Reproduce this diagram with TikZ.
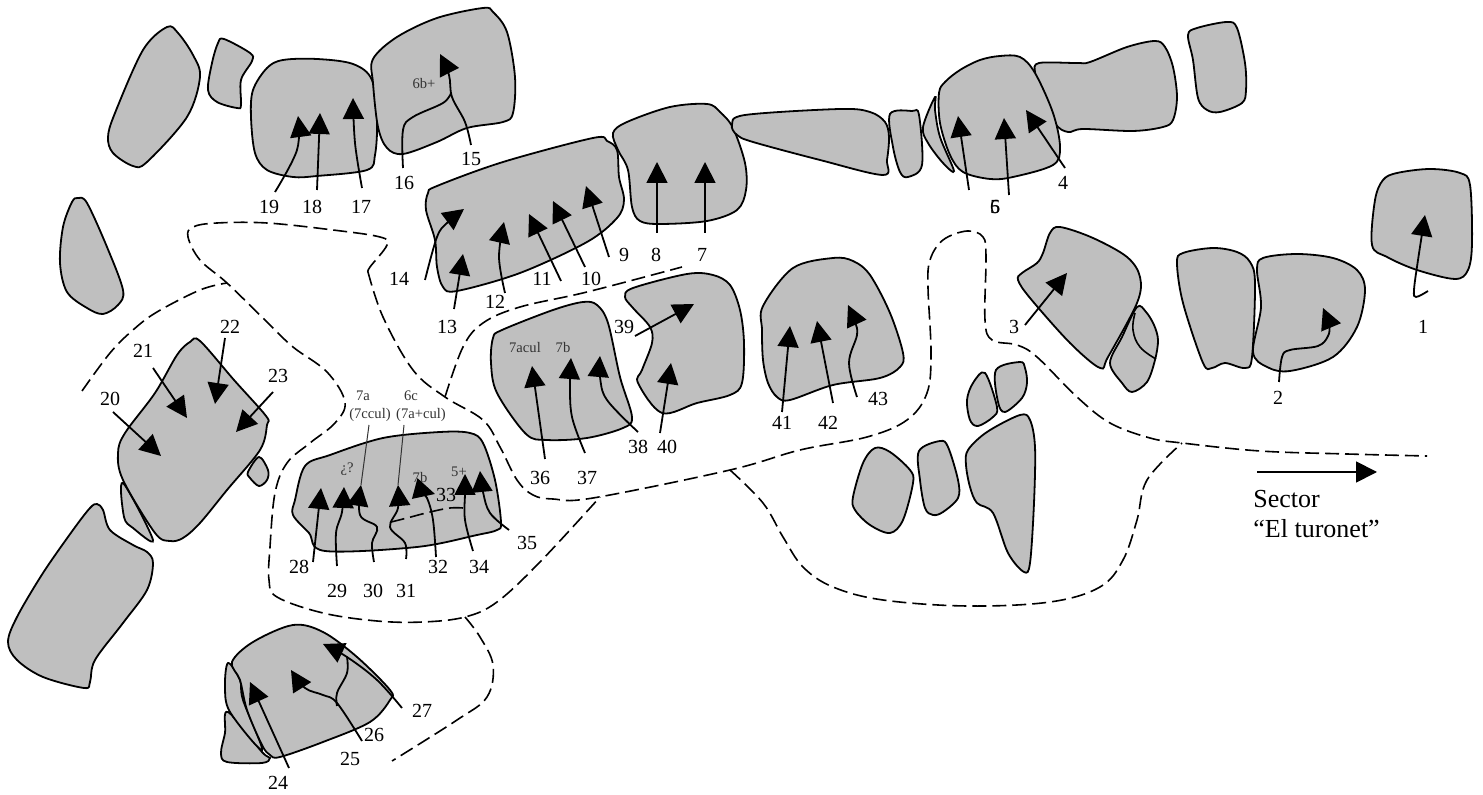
\documentclass[tikz,border=0pt]{standalone}
\usepackage{fontspec}
\setmainfont{Liberation Serif}
\usetikzlibrary{arrows.meta}
\definecolor{stone_gray}{gray}{0.75}
\tikzset{
  stone_block/.style={draw = black, fill = stone_gray, line width = 0.9pt, smooth cycle, tension = 0.55},
  stone_curve/.style={draw = black, line width = 0.8pt, smooth, tension = 0.7},
  arrow_route/.style={-{Triangle[length = 10.5pt, width = 10.5pt]}, line width = 0.9pt, color = black},
  arrow_curve/.style={arrow_route, smooth, tension = 0.6},
  line_route/.style={line width = 0.9pt, color = black, smooth, tension = 0.6},
  line_leader/.style={line width = 0.5pt, color = black!80},
  dash_line/.style={line width = 0.8pt, dash pattern = on 7pt off 3pt, smooth, tension = 0.6},
  num_label/.style={draw = none, inner sep = 0, font = \fontsize{10}{12}\selectfont},
  tag_label/.style={draw = none, inner sep = 0, color = black!80, font = \fontsize{7.3}{9}\selectfont},
  sector_label/.style={draw = none, inner sep = 0, anchor = west, font = \fontsize{13}{15}\selectfont}
}
\begin{document}
\begin{tikzpicture}[x = 0.5pt, y = -0.5pt]
\useasboundingbox (0,0) rectangle (1483,795);

%% stones, top row
\draw[stone_block] plot coordinates {(167,27) (178,33) (193,55) (200,77) (187,117) (147,162) (133,166) (113,153) (108,137) (115,113) (143,50)};
\draw[stone_block] plot coordinates {(224,39) (250,53) (252,61) (241,80) (241,105) (237,108) (217,102) (208,90) (212,63) (218,43)};
\draw[stone_block] plot coordinates {(283,60) (317,59) (353,64) (372,80) (377,120) (375,155) (367,170) (317,176) (293,177) (267,170) (255,153) (251,117) (253,90) (267,68)};
\draw[stone_block] plot coordinates {(373,59) (397,37) (437,18) (483,8) (493,12) (507,32) (515,77) (513,113) (503,122) (467,128) (437,142) (403,154) (387,148) (378,127) (373,83)};
\draw[stone_block] plot coordinates {(437,186) (503,162) (593,138) (607,141) (617,150) (619,177) (624,200) (617,218) (587,242) (520,273) (457,291) (443,287) (437,267) (435,240) (426,210) (428,193)};
\draw[stone_block] plot coordinates {(613,133) (627,122) (670,107) (707,104) (720,112) (733,128) (745,163) (746,190) (737,210) (707,221) (660,224) (640,221) (632,207) (628,170) (618,150)};
\draw[stone_block] plot coordinates {(732,125) (745,115) (840,109) (870,112) (885,122) (889,137) (887,160) (883,175) (820,160) (753,142) (737,135)};
\draw[stone_block] plot coordinates {(890,114) (912,111) (919,115) (922,165) (908,177) (900,172) (893,147)};
\draw[stone_block] plot coordinates {(935,97) (923,127) (928,143) (943,163) (954,171) (940,137) (935,110)};
\draw[stone_block] plot coordinates {(1035,72) (1039,63) (1077,63) (1090,62) (1127,47) (1155,41) (1165,47) (1173,67) (1177,97) (1173,120) (1163,127) (1133,131) (1083,129) (1068,132) (1055,123) (1040,87)};
\draw[stone_block] plot coordinates {(945,82) (960,70) (980,60) (1000,56) (1020,57) (1035,73) (1053,113) (1060,147) (1053,165) (1013,177) (990,179) (963,172) (950,155) (940,123) (939,93)};
\draw[stone_block] plot coordinates {(1188,35) (1197,28) (1227,22) (1237,28) (1245,63) (1246,90) (1242,103) (1220,112) (1207,110) (1198,98) (1193,60)};

%% stones, right side
\draw[stone_block] plot coordinates {(1372,245) (1375,200) (1383,180) (1397,173) (1430,169) (1460,173) (1470,185) (1472,243) (1468,270) (1455,279) (1417,270) (1387,257)};
\draw[stone_block] plot coordinates {(1177,263) (1183,253) (1213,248) (1237,252) (1250,262) (1255,283) (1252,357) (1245,368) (1225,363) (1212,368) (1203,363) (1183,303)};
\draw[stone_block] plot coordinates {(1257,270) (1263,258) (1297,254) (1333,258) (1357,270) (1365,290) (1357,327) (1333,357) (1290,371) (1267,367) (1253,352) (1261,307)};
\draw[stone_block] plot coordinates {(1137,307) (1146,312) (1154,325) (1158,340) (1155,360) (1147,382) (1132,392) (1122,383) (1110,363) (1122,337)};
\draw[stone_curve] plot coordinates {(1135,313) (1133,330) (1140,347) (1156,359)};
\draw[stone_block] plot coordinates {(1018,280) (1022,273) (1037,263) (1043,253) (1050,233) (1060,227) (1093,238) (1127,257) (1140,277) (1137,303) (1108,357) (1100,368) (1070,343) (1030,298)};

%% stones, centre
\draw[stone_block] plot coordinates {(875,448) (890,452) (910,470) (913,483) (903,520) (890,533) (870,525) (855,510) (853,497) (863,463)};
\draw[stone_block] plot coordinates {(919,451) (940,441) (948,447) (958,480) (958,498) (943,512) (933,515) (925,508) (920,480)};
\draw[stone_block] plot coordinates {(968,450) (987,432) (1020,415) (1030,420) (1035,447) (1034,503) (1030,563) (1024,572) (1008,553) (993,513) (977,503) (970,487) (966,465)};
\draw[stone_block] plot coordinates {(985,373) (997,407) (993,417) (978,426) (970,420) (967,400) (973,383)};
\draw[stone_block] plot coordinates {(996,370) (1020,362) (1025,368) (1027,383) (1022,398) (1005,412) (998,402)};
\draw[stone_block] plot coordinates {(763,306) (793,268) (833,258) (853,261) (870,275) (890,313) (903,353) (900,367) (880,378) (833,385) (790,400) (777,397) (768,383) (763,360) (762,330)};
\draw[stone_block] plot coordinates {(625,297) (633,288) (687,274) (713,275) (730,285) (740,310) (744,343) (742,383) (730,395) (697,403) (662,413) (638,383) (642,370) (652,343) (650,327) (633,308)};
\draw[stone_block] plot coordinates {(502,330) (553,310) (583,302) (597,305) (608,323) (620,377) (632,417) (623,428) (587,438) (547,440) (526,434) (497,393) (491,363) (493,338)};
\draw[stone_block] plot coordinates {(305,466) (330,455) (383,438) (440,432) (470,433) (483,443) (495,480) (501,522) (497,530) (477,535) (417,547) (325,551) (309,533) (293,515) (295,500)};

%% stones, left side
\draw[stone_block] plot coordinates {(78,198) (87,203) (107,247) (123,290) (118,305) (103,314) (87,308) (67,292) (60,263) (63,227) (72,202)};
\draw[stone_block] plot coordinates {(123,483) (153,540) (133,528) (124,517)};
\draw[stone_block] plot coordinates {(200,341) (234,380) (266,416) (267,425) (260,450) (227,490) (200,523) (183,538) (170,541) (155,533) (123,480) (118,453) (125,433) (155,393) (177,355) (190,342)};
\draw[stone_block] plot coordinates {(259,457) (268,470) (267,480) (259,486) (250,478) (248,472)};
\draw[stone_block] plot coordinates {(97,504) (103,510) (110,530) (133,545) (147,552) (153,563) (147,590) (123,623) (95,660) (90,682) (84,688) (43,677) (17,660) (8,642) (17,617) (43,573) (73,530) (90,508)};
\draw[stone_block] plot coordinates {(228,712) (262,752) (270,758) (262,763) (227,762) (221,753) (225,733)};
\draw[stone_block] plot coordinates {(228,663) (240,680) (243,700) (262,750) (230,712) (225,687)};
\draw[stone_block] plot coordinates {(232,662) (253,642) (293,625) (323,632) (357,657) (390,690) (390,700) (370,722) (323,742) (280,757) (270,755) (262,745) (247,710) (240,680)};

%% dashed lines
\draw[dash_line] plot coordinates {(82,391) (110,353) (133,330) (157,312) (200,290) (227,283)};
\draw[dash_line] plot coordinates {(368,272) (370,267) (387,245) (380,237) (333,230) (267,223) (217,223) (193,227) (188,237) (200,260) (227,283) (267,322) (293,347) (327,372) (345,402) (335,423) (310,443) (287,463) (275,493) (270,547) (269,580) (277,597) (323,613) (377,621) (423,622) (465,617) (497,602) (540,562) (600,497)};
\draw[dash_line] plot coordinates {(368,272) (383,317) (413,370) (445,397) (483,420) (500,447) (517,480) (533,495) (553,499) (593,498) (730,470) (800,450) (867,437) (907,420) (927,393) (931,353) (928,287) (930,260) (943,240) (967,231) (983,237) (986,257) (985,320) (992,340) (1017,345) (1037,357) (1077,397) (1110,423) (1150,438) (1182,443) (1260,451) (1347,454) (1427,456)};
\draw[dash_line] plot coordinates {(445,397) (463,347) (483,323) (520,307) (587,292) (682,267)};
\draw[dash_line] plot coordinates {(730,470) (763,503) (783,537) (803,567) (833,587) (883,600) (967,606) (1050,602) (1100,587) (1123,560) (1137,520) (1147,480) (1182,443)};
\draw[dash_line] plot coordinates {(465,617) (480,637) (493,665) (487,697) (457,720) (392,761)};
\draw[dash_line] plot coordinates {(463,508) (450,508) (430,512) (407,518) (387,523)};

%% labels
\node[num_label] at (1423,327) (n1) {1};
\node[num_label] at (1278,398) (n2) {2};
\node[num_label] at (1014,327) (n3) {3};
\node[num_label] at (1063,183) (n4) {4};
\node[num_label] at (995,207) (n5) {5};
\node[num_label] at (995,207) (n6) {6};
\node[num_label] at (702,255) (n7) {7};
\node[num_label] at (656,255) (n8) {8};
\node[num_label] at (624,255) (n9) {9};
\node[num_label] at (591,279) (n10) {10};
\node[num_label] at (542,279) (n11) {11};
\node[num_label] at (495,302) (n12) {12};
\node[num_label] at (447,327) (n13) {13};
\node[num_label] at (399,279) (n14) {14};
\node[num_label] at (471,159) (n15) {15};
\node[num_label] at (404,183) (n16) {16};
\node[num_label] at (361,207) (n17) {17};
\node[num_label] at (312,207) (n18) {18};
\node[num_label] at (269,207) (n19) {19};
\node[num_label] at (110,399) (n20) {20};
\node[num_label] at (143,351) (n21) {21};
\node[num_label] at (230,327) (n22) {22};
\node[num_label] at (278,376) (n23) {23};
\node[num_label] at (278,783) (n24) {24};
\node[num_label] at (350,759) (n25) {25};
\node[num_label] at (374,735) (n26) {26};
\node[num_label] at (422,711) (n27) {27};
\node[num_label] at (299,567) (n28) {28};
\node[num_label] at (337,591) (n29) {29};
\node[num_label] at (373,591) (n30) {30};
\node[num_label] at (406,591) (n31) {31};
\node[num_label] at (438,567) (n32) {32};
\node[num_label] at (446,495) (n33) {33};
\node[num_label] at (479,567) (n34) {34};
\node[num_label] at (527,543) (n35) {35};
\node[num_label] at (540,478) (n36) {36};
\node[num_label] at (587,478) (n37) {37};
\node[num_label] at (638,447) (n38) {38};
\node[num_label] at (624,327) (n39) {39};
\node[num_label] at (667,447) (n40) {40};
\node[num_label] at (782,423) (n41) {41};
\node[num_label] at (828,423) (n42) {42};
\node[num_label] at (878,399) (n43) {43};

\node[tag_label] at (424,84) (t6bplus) {6b+};
\node[tag_label] at (525,348) (t7acul) {7acul};
\node[tag_label] at (563,348) (t7b) {7b};
\node[tag_label] at (347,469) (tquery) {¿?};
\node[tag_label] at (363,396) (t7a) {7a};
\node[tag_label] at (370,415) (t7ccul) {(7ccul)};
\node[tag_label] at (411,396) (t6c) {6c};
\node[tag_label] at (421,415) (t7acul2) {(7a+cul)};
\node[tag_label] at (420,478) (t7b2) {7b};
\node[tag_label] at (459,472) (t5plus) {5+};

\node[sector_label] at (1253,499) (sector1) {Sector};
\node[sector_label] at (1253,529) (sector2) {``El turonet''};

%% arrow ends
\coordinate (s1) at (1428,291);   \coordinate (h1) at (1425,215);
\coordinate (s2) at (1279,382);   \coordinate (h2) at (1323,308);
\coordinate (s3) at (1025,325);   \coordinate (h3) at (1067,273);
\coordinate (s4) at (1065,168);   \coordinate (h4) at (1026,110);
\coordinate (s5) at (1009,195);   \coordinate (h5) at (1004,118);
\coordinate (s6) at (969,190);    \coordinate (h6) at (958,116);
\coordinate (s7) at (705,233);    \coordinate (h7) at (705,162);
\coordinate (s8) at (657,233);    \coordinate (h8) at (657,162);
\coordinate (s9) at (609,257);    \coordinate (h9) at (586,186);
\coordinate (s10) at (585,267);   \coordinate (h10) at (553,201);
\coordinate (s11) at (561,281);   \coordinate (h11) at (529,214);
\coordinate (s12) at (505,293);   \coordinate (h12) at (504,222);
\coordinate (s13) at (454,309);   \coordinate (h13) at (463,254);
\coordinate (s14) at (425,280);   \coordinate (h14) at (464,209);
\coordinate (s15) at (471,145);   \coordinate (h15) at (440,54);
\coordinate (s16) at (403,168);
\coordinate (s17) at (362,188);   \coordinate (h17) at (353,98);
\coordinate (s18) at (317,190);   \coordinate (h18) at (320,113);
\coordinate (s19) at (275,192);   \coordinate (h19) at (298,116);
\coordinate (s20) at (113,412);   \coordinate (h20) at (161,456);
\coordinate (s21) at (153,368);   \coordinate (h21) at (187,418);
\coordinate (s22) at (225,338);   \coordinate (h22) at (215,404);
\coordinate (s23) at (273,392);   \coordinate (h23) at (236,432);
\coordinate (s24) at (289,768);   \coordinate (h24) at (250,682);
\coordinate (s25) at (362,741);   \coordinate (h25) at (291,670);
\coordinate (s26) at (337,706);
\coordinate (s27) at (402,708);   \coordinate (h27) at (323,644);
\coordinate (s28) at (313,562);   \coordinate (h28) at (321,488);
\coordinate (s29) at (337,566);   \coordinate (h29) at (344,487);
\coordinate (s30) at (374,562);   \coordinate (h30) at (361,485);
\coordinate (s31) at (406,559);   \coordinate (h31) at (398,485);
\coordinate (s32) at (436,557);   \coordinate (h32) at (435,494);
\coordinate (s34) at (473,551);   \coordinate (h34) at (465,474);
\coordinate (s35) at (509,530);   \coordinate (h35) at (480,471);
\coordinate (s36) at (545,459);   \coordinate (h36) at (532,366);
\coordinate (s37) at (585,453);   \coordinate (h37) at (571,358);
\coordinate (s38) at (638,432);   \coordinate (h38) at (600,356);
\coordinate (s39) at (635,336);   \coordinate (h39) at (694,304);
\coordinate (s40) at (660,433);   \coordinate (h40) at (671,363);
\coordinate (s41) at (782,412);   \coordinate (h41) at (790,326);
\coordinate (s42) at (833,403);   \coordinate (h42) at (817,321);
\coordinate (s43) at (857,397);   \coordinate (h43) at (848,305);
\coordinate (ssector) at (1257,472); \coordinate (hsector) at (1377,472);
\coordinate (l7ccul) at (369,425);
\coordinate (l7acul) at (404,425);

%% arrows
\draw[arrow_curve] plot coordinates {(s1) (1416,297) (1414,290) (1418,260) (h1)};
\draw[arrow_curve] plot coordinates {(s2) (1282,357) (1290,350) (1318,346) (1328,336) (1329,325) (h2)};
\draw[arrow_route] (s3) -- (h3);
\draw[arrow_route] (s4) -- (h4);
\draw[arrow_route] (s5) -- (h5);
\draw[arrow_route] (s6) -- (h6);
\draw[arrow_route] (s7) -- (h7);
\draw[arrow_route] (s8) -- (h8);
\draw[arrow_route] (s9) -- (h9);
\draw[arrow_route] (s10) -- (h10);
\draw[arrow_route] (s11) -- (h11);
\draw[arrow_curve] plot coordinates {(s12) (499,257) (h12)};
\draw[arrow_route] (s13) -- (h13);
\draw[arrow_curve] plot coordinates {(s14) (437,237) (447,223) (h14)};
\draw[arrow_curve] plot coordinates {(s15) (465,122) (452,97) (449,75) (h15)};
\draw[line_route] plot coordinates {(s16) (403,130) (413,117) (443,103) (451,93)};
\draw[arrow_curve] plot coordinates {(s17) (355,143) (h17)};
\draw[arrow_route] (s18) -- (h18);
\draw[arrow_curve] plot coordinates {(s19) (297,150) (h19)};
\draw[arrow_route] (s20) -- (h20);
\draw[arrow_route] (s21) -- (h21);
\draw[arrow_route] (s22) -- (h22);
\draw[arrow_route] (s23) -- (h23);
\draw[arrow_route] (s24) -- (h24);
\draw[arrow_curve] plot coordinates {(s25) (337,703) (323,695) (305,688) (h25)};
\draw[line_route] plot coordinates {(s26) (337,693) (347,673) (347,657)};
\draw[arrow_curve] plot coordinates {(s27) (377,680) (347,657) (h27)};
\draw[arrow_route] (s28) -- (h28);
\draw[arrow_curve] plot coordinates {(s29) (336,533) (342,512) (h29)};
\draw[arrow_curve] plot coordinates {(s30) (372,543) (377,527) (360,515) (h30)};
\draw[arrow_curve] plot coordinates {(s31) (405,543) (390,527) (398,508) (h31)};
\draw[arrow_curve] plot coordinates {(s32) (433,520) (427,498) (420,491) (h32)};
\draw[arrow_curve] plot coordinates {(s34) (465,520) (465,493) (h34)};
\draw[arrow_curve] plot coordinates {(s35) (490,513) (483,492) (h35)};
\draw[arrow_route] (s36) -- (h36);
\draw[arrow_curve] plot coordinates {(s37) (572,417) (570,383) (h37)};
\draw[arrow_curve] plot coordinates {(s38) (607,400) (600,377) (h38)};
\draw[arrow_route] (s39) -- (h39);
\draw[arrow_route] (s40) -- (h40);
\draw[arrow_route] (s41) -- (h41);
\draw[arrow_route] (s42) -- (h42);
\draw[arrow_curve] plot coordinates {(s43) (849,363) (857,335) (855,322) (h43)};
\draw[arrow_route] (ssector) -- (hsector);

%% leaders
\draw[line_leader] (l7ccul) -- (h30);
\draw[line_leader] (l7acul) -- (h31);
\end{tikzpicture}
\end{document}
